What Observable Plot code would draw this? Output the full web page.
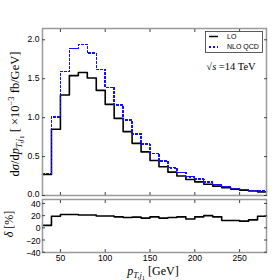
<!DOCTYPE html>
<html><head><meta charset="utf-8">
<script src="https://cdn.jsdelivr.net/npm/d3@7"></script>
<script src="https://cdn.jsdelivr.net/npm/@observablehq/plot@0.6"></script>
<style>
body{margin:0;background:#fff}
#wrap{position:relative;width:280px;height:280px;background:#fff;overflow:hidden}
#wrap > svg{position:absolute;left:0}
</style>
</head><body><div id="wrap"></div>
<script>
// bin lower edges (GeV), bin width 10 GeV, last edge 280
const binStart = [30,40,50,60,70,80,90,100,110,120,130,140,150,160,170,180,190,200,210,220,230,240,250,260,270];
const binEnd = 280;
const loValues  = [0.27,0.85,1.29,1.54,1.58,1.51,1.35,1.17,0.99,0.82,0.67,0.56,0.45,0.37,0.30,0.25,0.205,0.175,0.145,0.12,0.10,0.082,0.068,0.058,0.047];
const nloValues = [0.28,1.01,1.59,1.89,1.94,1.83,1.62,1.39,1.16,0.97,0.79,0.66,0.54,0.44,0.355,0.295,0.24,0.21,0.175,0.14,0.115,0.093,0.077,0.066,0.056];
const deltaValues = [4,19,22,22,21,21,19.5,19.5,18,17,17.5,16,18,16,17,18,14.5,18,20,18,12,12,11,13,19];
const xTicks = [50,100,150,200,250];
const yTicksMain = [0,0.5,1.0,1.5,2.0];
const yTicksLower = [-40,-20,0,20,40];
const seriesNames = ["LO","NLO QCD"];
const seriesColors = ["#000000","#1010ff"];
const dotted = "2,2";

function steps(vals){
  const pts = binStart.map((x,i)=>({x, y: vals[i]}));
  pts.push({x: binEnd, y: vals[vals.length-1]});
  return pts;
}
const loPts = steps(loValues), nloPts = steps(nloValues), deltaPts = steps(deltaValues);

const frameColor = "#9a9a9a";
const tickColor = "#444";
const baseStyle = {fontFamily: "'Liberation Sans', Arial, sans-serif", fontSize: "8.6px", background: "transparent", overflow: "visible", color: "#000"};

function frameTicks(yTicks){
  return [
    Plot.axisY(yTicks, {anchor: "left", tickSize: -3, fill: "none", stroke: tickColor, label: null}),
    Plot.axisY(yTicks, {anchor: "right", tickSize: -3, fill: "none", stroke: tickColor, label: null}),
    Plot.axisX(xTicks, {anchor: "bottom", tickSize: -3, fill: "none", stroke: tickColor, label: null}),
    Plot.axisX(xTicks, {anchor: "top", tickSize: -3, fill: "none", stroke: tickColor, label: null})
  ];
}

const mainPlot = Plot.plot({
  width: 280, height: 198,
  marginTop: 28, marginBottom: 3, marginLeft: 42, marginRight: 14,
  x: {domain: [30, 280]},
  y: {domain: [0, 2.145]},
  style: baseStyle,
  marks: [
    Plot.lineY(loPts, {x: "x", y: "y", curve: "step-after", stroke: seriesColors[0], strokeWidth: 1.6}),
    Plot.lineY(nloPts, {x: "x", y: "y", curve: "step-after", stroke: seriesColors[1], strokeWidth: 1.5, strokeDasharray: dotted, shapeRendering: "crispEdges"}),
    Plot.frame({stroke: frameColor, strokeWidth: 1.5}),
    ...frameTicks(yTicksMain),
    Plot.axisY(yTicksMain, {anchor: "left", tickSize: 0, tickPadding: 3, dy: -0.8, tickFormat: d3.format(".1f"), label: null})
  ]
});

const lowerPlot = Plot.plot({
  width: 280, height: 84,
  marginTop: 3, marginBottom: 28, marginLeft: 42, marginRight: 14,
  x: {domain: [30, 280]},
  y: {domain: [-40.5, 46.5]},
  style: baseStyle,
  marks: [
    Plot.lineY(deltaPts, {x: "x", y: "y", curve: "step-after", stroke: "#000", strokeWidth: 1.6}),
    Plot.frame({stroke: frameColor, strokeWidth: 1.5}),
    ...frameTicks(yTicksLower),
    Plot.axisY(yTicksLower, {anchor: "left", tickSize: 0, tickPadding: 2, dy: 0.8, label: null}),
    Plot.axisX(xTicks, {anchor: "bottom", tickSize: 0, tickPadding: 2.5, label: null})
  ]
});

const wrap = document.getElementById("wrap");
mainPlot.style.top = "0px";
lowerPlot.style.top = "196px";
wrap.appendChild(mainPlot);
wrap.appendChild(lowerPlot);

// overlay for titles, legend, annotation
const ov = d3.select(wrap).append("svg")
  .attr("width", 280).attr("height", 280)
  .style("position", "absolute").style("top", "0px").style("left", "0px")
  .style("pointer-events", "none");
const serif = "'Liberation Serif', 'Times New Roman', serif";

// y title (main)
const yt = ov.append("text")
  .attr("transform", "translate(19,114) rotate(-90)")
  .attr("text-anchor", "middle")
  .attr("font-family", serif).attr("font-size", 12.5);
yt.append("tspan").text("d");
yt.append("tspan").attr("font-style", "italic").text("σ");
yt.append("tspan").text("/d");
yt.append("tspan").attr("font-style", "italic").text("p");
yt.append("tspan").attr("font-style", "italic").attr("font-size", 9).attr("dy", 3).text("T,j");
yt.append("tspan").attr("font-size", 7).attr("dy", 1.5).text("1");
yt.append("tspan").attr("dy", -4.5).text("  [ ×10");
yt.append("tspan").attr("font-size", 8.5).attr("dy", -5).text("−3");
yt.append("tspan").attr("dy", 5).text(" fb/GeV]");

// y title (lower)
const yl = ov.append("text")
  .attr("transform", "translate(13,224) rotate(-90)")
  .attr("text-anchor", "middle")
  .attr("font-family", serif).attr("font-size", 12);
yl.append("tspan").attr("font-style", "italic").text("δ");
yl.append("tspan").text(" [%]");

// x title
const xt = ov.append("text")
  .attr("x", 153).attr("y", 275)
  .attr("text-anchor", "middle")
  .attr("font-family", serif).attr("font-size", 12);
xt.append("tspan").attr("font-style", "italic").text("p");
xt.append("tspan").attr("font-style", "italic").attr("font-size", 8.5).attr("dy", 3).text("T,j");
xt.append("tspan").attr("font-size", 6.5).attr("dy", 1.5).text("1");
xt.append("tspan").attr("dy", -4.5).text(" [GeV]");

// annotation
const an = ov.append("text")
  .attr("x", 231).attr("y", 70)
  .attr("text-anchor", "middle")
  .attr("font-family", serif).attr("font-size", 10.5);
an.append("tspan").text("√");
an.append("tspan").attr("font-style", "italic").text("s");
an.append("tspan").text(" =14 TeV");

// legend
const lg = ov.append("g");
lg.append("rect").attr("x", 205.5).attr("y", 31.5).attr("width", 57).attr("height", 21)
  .attr("fill", "#fff").attr("stroke", "#333").attr("stroke-width", 0.8);
seriesNames.forEach((name, i) => {
  const yy = 36.5 + i * 10.5;
  lg.append("line").attr("x1", 209).attr("x2", 218).attr("y1", yy).attr("y2", yy)
    .attr("stroke", seriesColors[i]).attr("stroke-width", 1.5)
    .attr("stroke-dasharray", i === 1 ? dotted : null)
    .attr("shape-rendering", i === 1 ? "crispEdges" : null);
  lg.append("text").attr("x", 227).attr("y", yy).attr("dy", "0.35em")
    .attr("font-family", "'Liberation Sans', Arial, sans-serif").attr("font-size", 7)
    .text(name);
});
</script>
</body></html>
